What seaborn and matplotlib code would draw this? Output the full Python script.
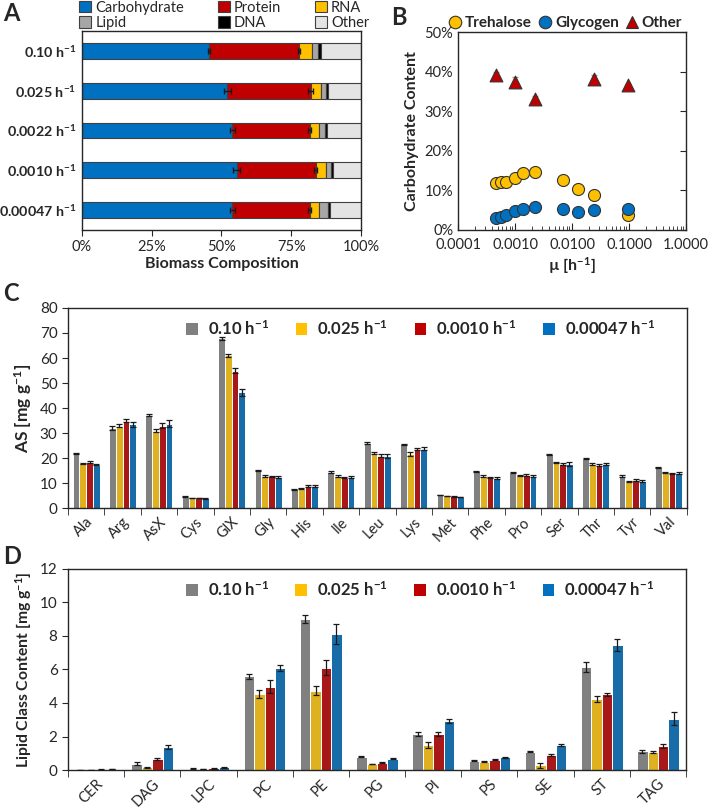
import numpy as np
import pandas as pd
import matplotlib
matplotlib.use("Agg")
import matplotlib.pyplot as plt
import matplotlib.ticker as mticker
from matplotlib.patches import Patch
from matplotlib.lines import Line2D
import seaborn as sns

# ---- data ----

# panel A: biomass composition (%)
rates_A = ['0.10', '0.025', '0.0022', '0.0010', '0.00047']
carb = [45.5, 52.1, 53.9, 55.4, 53.9]
protein = [32.4, 29.9, 27.7, 28.4, 27.7]
rna = [4.6, 3.6, 3.5, 3.6, 3.4]
lipid = [2.2, 1.8, 1.9, 1.9, 3.3]
dna = [0.9, 0.9, 0.8, 0.7, 0.6]
other = [14.4, 11.7, 12.2, 10.0, 11.1]
carb_err = [0.4, 1.2, 0.9, 1.4, 1.0]
protein_err = [0.3, 0.8, 0.4, 0.5, 0.5]

# panel B: carbohydrate content vs growth rate
mu_sugar = [0.00047, 0.00056, 0.00068, 0.0010, 0.0014, 0.0022, 0.0070, 0.0125, 0.024, 0.097]
trehalose = [11.9, 12.1, 12.1, 13.1, 14.5, 14.7, 12.7, 10.4, 8.9, 3.7]
glycogen = [3.0, 3.4, 3.7, 4.7, 5.4, 5.8, 5.2, 4.6, 5.0, 5.4]
mu_other = [0.00047, 0.0010, 0.0022, 0.024, 0.097]
other_carb = [39.2, 37.4, 33.2, 38.2, 36.6]
other_carb_err = [0.7, 1.3, 0.6, 0.9, 0.4]

# panel C: amino acids (mg/g)
rates = ['0.10', '0.025', '0.0010', '0.00047']
amino = ['Ala', 'Arg', 'AsX', 'Cys', 'GlX', 'Gly', 'His', 'Ile', 'Leu',
         'Lys', 'Met', 'Phe', 'Pro', 'Ser', 'Thr', 'Tyr', 'Val']
aa_010 = [22.0, 32.0, 37.2, 4.5, 67.8, 15.0, 7.5, 14.5, 26.0, 25.5, 5.3, 14.8, 14.1, 21.5, 19.7, 12.8, 16.4]
aa_025 = [18.0, 33.0, 31.0, 4.0, 61.2, 12.8, 7.7, 12.7, 22.0, 21.7, 4.9, 12.7, 12.9, 18.3, 17.6, 10.5, 14.1]
aa_0010 = [18.3, 35.0, 33.0, 4.0, 55.0, 12.7, 8.8, 12.2, 21.0, 23.7, 4.7, 12.1, 13.2, 17.7, 17.3, 11.1, 13.7]
aa_00047 = [17.3, 33.5, 33.7, 3.9, 46.3, 12.3, 8.8, 12.3, 21.0, 23.7, 4.4, 12.1, 12.9, 17.7, 17.7, 10.8, 14.0]
aa_010_err = [0.2, 0.8, 0.4, 0.2, 0.5, 0.2, 0.2, 0.3, 0.3, 0.3, 0.1, 0.2, 0.2, 0.2, 0.2, 0.3, 0.2]
aa_025_err = [0.2, 0.5, 0.7, 0.1, 0.6, 0.3, 0.2, 0.4, 0.3, 0.9, 0.1, 0.4, 0.2, 0.2, 0.3, 0.2, 0.2]
aa_0010_err = [0.4, 0.7, 0.9, 0.1, 1.0, 0.3, 0.4, 0.2, 0.5, 0.5, 0.1, 0.2, 0.3, 0.5, 0.4, 0.4, 0.2]
aa_00047_err = [0.2, 1.0, 1.4, 0.1, 1.3, 0.4, 0.3, 0.4, 0.8, 0.6, 0.1, 0.4, 0.4, 0.7, 0.5, 0.3, 0.5]

# panel D: lipid classes (mg/g)
lipids = ['CER', 'DAG', 'LPC', 'PC', 'PE', 'PG', 'PI', 'PS', 'SE', 'ST', 'TAG']
lc_010 = [0.00, 0.38, 0.07, 5.60, 9.00, 0.80, 2.15, 0.54, 1.10, 6.16, 1.12]
lc_025 = [0.00, 0.17, 0.05, 4.52, 4.74, 0.36, 1.50, 0.50, 0.28, 4.23, 1.08]
lc_0010 = [0.03, 0.65, 0.10, 4.98, 6.10, 0.44, 2.17, 0.60, 0.88, 4.52, 1.44]
lc_00047 = [0.07, 1.35, 0.15, 6.08, 8.10, 0.66, 2.93, 0.76, 1.51, 7.45, 3.07]
lc_010_err = [0.00, 0.08, 0.02, 0.15, 0.25, 0.03, 0.12, 0.03, 0.04, 0.30, 0.08]
lc_025_err = [0.00, 0.03, 0.01, 0.25, 0.25, 0.02, 0.18, 0.03, 0.15, 0.18, 0.07]
lc_0010_err = [0.01, 0.05, 0.02, 0.40, 0.45, 0.02, 0.12, 0.03, 0.06, 0.10, 0.10]
lc_00047_err = [0.01, 0.12, 0.02, 0.18, 0.60, 0.03, 0.12, 0.03, 0.06, 0.35, 0.38]

# ---- style ----
sns.set_style("ticks")
plt.rcParams['font.family'] = ['Lato', 'DejaVu Sans']
plt.rcParams['mathtext.fontset'] = 'custom'
plt.rcParams['mathtext.default'] = 'bf'
plt.rcParams['mathtext.bf'] = 'Lato:bold'
plt.rcParams['mathtext.rm'] = 'Lato'
plt.rcParams['axes.edgecolor'] = '#262626'
plt.rcParams['axes.linewidth'] = 1.0

GREY, YEL, RED, BLUE = '#808080', '#FFC000', '#C00000', '#0070C0'
rate_colors = [GREY, YEL, RED, BLUE]

def hlabel(r):
    return r + r' h$^{-1}$'

fig = plt.figure(figsize=(7.08, 8.09), dpi=100)

# ---- panel A ----
axA = fig.add_axes([0.1158, 0.7157, 0.394, 0.246])
parts = [('Carbohydrate', carb, BLUE), ('Protein', protein, RED), ('RNA', rna, YEL),
         ('Lipid', lipid, '#A6A6A6'), ('DNA', dna, 'black'), ('Other', other, '#E4E4E4')]
ypos = np.arange(len(rates_A))
left = np.zeros(len(rates_A))
ends = {}
for name, vals, col in parts:
    axA.barh(ypos, vals, left=left, height=0.4, color=col, edgecolor='#404040', linewidth=0.8)
    left = left + np.array(vals)
    ends[name] = left.copy()
axA.errorbar(ends['Carbohydrate'], ypos, xerr=carb_err, fmt='none', ecolor='#1a1a1a',
             elinewidth=1, capsize=2.2, capthick=1)
axA.errorbar(ends['Protein'], ypos, xerr=protein_err, fmt='none', ecolor='#1a1a1a',
             elinewidth=1, capsize=2.2, capthick=1)
axA.set_xlim(0, 100)
axA.set_ylim(4.5, -0.5)
axA.set_yticks(ypos)
axA.set_yticklabels([hlabel(r) for r in rates_A], fontweight='bold', fontsize=10.3)
axA.tick_params(axis='y', length=0, pad=4)
axA.set_xticks([0, 25, 50, 75, 100])
axA.xaxis.set_major_formatter(mticker.FuncFormatter(lambda v, p: f'{v:.0f}%'))
axA.tick_params(axis='x', direction='out', length=4, labelsize=10.5, color='#262626')
axA.set_xlabel('Biomass Composition', fontweight='bold', fontsize=11.5, labelpad=2)
order = [0, 3, 1, 4, 2, 5]
handles = [Patch(facecolor=parts[i][2], edgecolor='#404040', linewidth=0.8, label=parts[i][0]) for i in order]
axA.legend(handles=handles, ncol=3, loc='lower left', bbox_to_anchor=(-0.02, 0.99, 1.06, 0.1),
           mode='expand', frameon=False, fontsize=10.5, handlelength=0.8, handleheight=0.8,
           handletextpad=0.3, labelspacing=0.1, borderaxespad=0.1, borderpad=0.1)

# ---- panel B ----
axB = fig.add_axes([0.647, 0.7157, 0.322, 0.2447])
sns.scatterplot(x=mu_sugar, y=trehalose, ax=axB, color=YEL, marker='o', s=75,
                edgecolor='#333333', linewidth=0.8, zorder=3)
sns.scatterplot(x=mu_sugar, y=glycogen, ax=axB, color=BLUE, marker='o', s=75,
                edgecolor='#333333', linewidth=0.8, zorder=4)
axB.errorbar(mu_other, other_carb, yerr=other_carb_err, fmt='none', ecolor='#999999',
             elinewidth=1, capsize=2, zorder=2)
sns.scatterplot(x=mu_other, y=other_carb, ax=axB, color=RED, marker='^', s=85,
                edgecolor='#333333', linewidth=0.8, zorder=3)
axB.set_xscale('log')
axB.set_xlim(1e-4, 1)
axB.set_ylim(0, 50)
axB.set_xticks([1e-4, 1e-3, 1e-2, 1e-1, 1])
axB.xaxis.set_major_formatter(mticker.FuncFormatter(lambda v, p: f'{v:.4f}'))
axB.xaxis.set_minor_locator(mticker.LogLocator(base=10, subs=np.arange(2, 10), numticks=20))
axB.xaxis.set_minor_formatter(mticker.NullFormatter())
axB.tick_params(axis='x', which='major', direction='in', length=5, labelsize=10.5, top=False, pad=6)
axB.tick_params(axis='x', which='minor', direction='in', length=3, top=False)
axB.set_yticks(np.arange(0, 51, 10))
axB.yaxis.set_major_formatter(mticker.FuncFormatter(lambda v, p: f'{v:.0f}%'))
axB.tick_params(axis='y', direction='in', length=4, labelsize=10.5, left=False, right=True,
                labelleft=True, labelright=False)
axB.set_xlabel(r'µ [h$^{-1}$]', fontweight='bold', fontsize=11.5, labelpad=2)
axB.set_ylabel('Carbohydrate Content', fontweight='bold', fontsize=11.5, labelpad=4)
hB = [Line2D([], [], ls='none', marker='o', ms=9, mfc=YEL, mec='#333333', mew=0.8, label='Trehalose'),
      Line2D([], [], ls='none', marker='o', ms=9, mfc=BLUE, mec='#333333', mew=0.8, label='Glycogen'),
      Line2D([], [], ls='none', marker='^', ms=9, mfc=RED, mec='#333333', mew=0.8, label='Other')]
axB.legend(handles=hB, ncol=3, loc='lower center', bbox_to_anchor=(0.47, 0.995), frameon=False,
           prop={'weight': 'bold', 'size': 11}, handlelength=0.9, handletextpad=0.2,
           columnspacing=0.4, borderaxespad=0.1, borderpad=0.1)


def grouped_bars(ax, cats, series, errs, ymax, ystep, ylabel, ylsize):
    df = pd.DataFrame({
        'cat': np.tile(cats, len(rates)),
        'rate': np.repeat(rates, len(cats)),
        'val': np.concatenate(series),
    })
    sns.barplot(data=df, x='cat', y='val', hue='rate', order=cats, hue_order=rates,
                palette=rate_colors, width=0.74, edgecolor='white', linewidth=0.7,
                errorbar=None, legend=False, ax=ax)
    for cont, err in zip(ax.containers, errs):
        xs = [b.get_x() + b.get_width() / 2 for b in cont]
        hs = [b.get_height() for b in cont]
        ax.errorbar(xs, hs, yerr=err, fmt='none', ecolor='#1a1a1a', elinewidth=0.9,
                    capsize=2.2, capthick=0.9, zorder=5)
    n = len(cats)
    ax.set_xlim(-0.5, n - 0.5)
    ax.set_ylim(0, ymax)
    ax.set_yticks(np.arange(0, ymax + 0.01, ystep))
    ax.set_xticks(np.arange(n))
    ax.set_xticklabels(cats, rotation=45, ha='right', rotation_mode='anchor', fontsize=10.5)
    ax.set_xticks(np.arange(-0.5, n), minor=True)
    ax.tick_params(axis='x', which='major', length=0, pad=5)
    ax.tick_params(axis='x', which='minor', direction='out', length=5, color='#262626')
    ax.tick_params(axis='y', direction='out', length=4, labelsize=11, color='#262626')
    ax.set_xlabel('')
    ax.set_ylabel(ylabel, fontweight='bold', fontsize=ylsize, labelpad=4)
    hl = [Patch(facecolor=c, edgecolor='none', label=hlabel(r)) for r, c in zip(rates, rate_colors)]
    ax.legend(handles=hl, ncol=4, loc='upper left', bbox_to_anchor=(0.175, 0.995, 0.79, 0.0),
              mode='expand', frameon=False, prop={'weight': 'bold', 'size': 12},
              handlelength=0.7, handleheight=0.7, handletextpad=0.6, borderaxespad=0.2)


# ---- panel C ----
axC = fig.add_axes([0.096, 0.372, 0.874, 0.2473])
grouped_bars(axC, amino, [aa_010, aa_025, aa_0010, aa_00047],
             [aa_010_err, aa_025_err, aa_0010_err, aa_00047_err], 80, 10,
             r'AS [mg g$^{-1}$]', 12.5)

# ---- panel D ----
axD = fig.add_axes([0.096, 0.0482, 0.873, 0.2485])
grouped_bars(axD, lipids, [lc_010, lc_025, lc_0010, lc_00047],
             [lc_010_err, lc_025_err, lc_0010_err, lc_00047_err], 12, 2,
             r'Lipid Class Content [mg g$^{-1}$]', 11.3)

for lab, x, y in [('A', 0.004, 0.997), ('B', 0.553, 0.993), ('C', 0.004, 0.652), ('D', 0.004, 0.326)]:
    fig.text(x, y, lab, fontsize=17, fontweight='bold', va='top', ha='left')

fig.savefig('out.png', dpi=100)
